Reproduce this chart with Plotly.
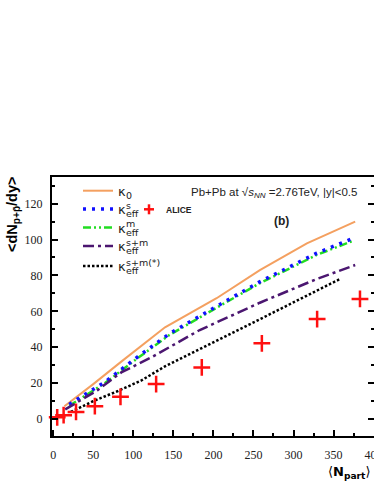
import plotly.graph_objects as go

# curves
k0_x = [14, 50, 85, 139.6, 204, 258, 316.7, 377]
k0_y = [7.2, 19.5, 32, 51.1, 67.3, 83, 97.9, 110]

ks_x = [20, 65, 104.6, 144.6, 200, 256, 329, 375]
ks_y = [8.2, 20.8, 34.4, 47.4, 61.7, 76, 92.4, 100.8]

km_x = [20, 65, 105, 145, 200, 256, 329, 375]
km_y = [7.4, 20.2, 33.8, 46.8, 61.0, 75.2, 91.4, 99.4]

ksm_x = [15, 55, 85, 123, 183, 258, 329, 377]
ksm_y = [5.4, 16, 26, 34.5, 49.6, 64.8, 78, 85.8]

ksm2_x = [22, 50, 80, 110, 140, 200, 258, 358]
ksm2_y = [4, 10, 15.5, 21.5, 29.5, 43, 55.6, 78]

alice_x = [5, 13, 28.5, 52, 84, 128.5, 185.5, 260.5, 329.5, 383]
alice_y = [1.0, 2.2, 4, 7.2, 12.4, 19.5, 28.8, 42.2, 55.7, 66.9]

# plot area in window pixels
L, R, T, B = 52, 374, 177, 436
W, H = 374, 484


def px(x):
    return (x - L) / (R - L)


def py(y):
    return (B - y) / (B - T)


def note(x, y, text, size, family="Liberation Sans", xanchor="left", **kw):
    fig.add_annotation(x=px(x), y=py(y), xref="paper", yref="paper", text=text,
                       showarrow=False, xanchor=xanchor, yanchor="middle",
                       font=dict(family=family, size=size, color=kw.pop("color", "#222")),
                       **kw)


fig = go.Figure()

styles = [
    (k0_x, k0_y, "#f4a060", 2, "solid"),
    (km_x, km_y, "#22dd22", 2.5, "8px,3px,2px,3px,2px,3px"),
    (ks_x, ks_y, "#1010ff", 3.5, "3px,6px"),
    (ksm_x, ksm_y, "#4b1670", 2.5, "11px,4px,3px,4px"),
    (ksm2_x, ksm2_y, "#000000", 2.5, "2.5px,2px"),
]
for xs, ys, c, w, d in styles:
    fig.add_trace(go.Scatter(x=xs, y=ys, mode="lines",
                             line=dict(color=c, width=w, dash=d),
                             showlegend=False))

fig.add_trace(go.Scatter(x=alice_x, y=alice_y, mode="markers",
                         marker=dict(symbol="cross-thin", size=12,
                                     line=dict(color="#ff1010", width=2.5)),
                         showlegend=False, cliponaxis=False))

# legend drawn by hand
rows = [190.7, 209, 227.5, 246, 266]
leg = [
    ("#f4a060", 2, "solid", "0", None),
    ("#1010ff", 3.5, "3px,6px", "eff", "s"),
    ("#22dd22", 2.5, "8px,3px,2px,3px,2px,3px", "eff", "m"),
    ("#4b1670", 2.5, "11px,4px,3px,4px", "eff", "s+m"),
    ("#000000", 2.5, "2.5px,2px", "eff", "s+m(*)"),
]
for yy, (c, w, d, sub, sup) in zip(rows, leg):
    fig.add_shape(type="line", xref="paper", yref="paper",
                  x0=px(83), x1=px(113), y0=py(yy), y1=py(yy),
                  line=dict(color=c, width=w, dash=d))
    note(116, yy + 0.5, "κ", 13, family="DejaVu Sans")
    note(124, yy + 4.5, sub, 9.5, family="DejaVu Sans")
    if sup:
        note(124, yy - 4, sup, 9.5, family="DejaVu Sans")

# ALICE legend entry
fig.add_shape(type="line", xref="paper", yref="paper",
              x0=px(144), x1=px(154), y0=py(209.3), y1=py(209.3),
              line=dict(color="#ff1010", width=2.5))
fig.add_shape(type="line", xref="paper", yref="paper",
              x0=px(149), x1=px(149), y0=py(204.3), y1=py(214.3),
              line=dict(color="#ff1010", width=2.5))
note(164, 210, "<b>ALICE</b>", 8.5)

note(189, 192.5, "Pb+Pb at √<i>s</i><sub><i>NN</i></sub> =2.76TeV, |y|<0.5", 11.5)
note(281, 220.5, "<b>(b)</b>", 12, xanchor="center")

# axis titles
note(13, 214, "<b>&lt;dN<sub>p+p̄</sub>/dy&gt;</b>", 14.5, xanchor="center",
     textangle=-90, color="#000")
note(373, 472, "⟨<b>N</b><sub><b>part</b></sub>⟩", 13, family="DejaVu Sans",
     xanchor="right", color="#000")

fig.update_xaxes(range=[-1.5, 400.5], tickvals=[0, 50, 100, 150, 200, 250, 300, 350, 400],
                 ticks="inside", ticklen=6, tickwidth=1.5, tickcolor="#000",
                 minor=dict(ticks="inside", ticklen=3, dtick=25, tick0=0, tickcolor="#000"),
                 showline=True, linewidth=2, linecolor="#000", mirror=True,
                 showgrid=False, zeroline=False, ticklabeloverflow="allow",
                 tickfont=dict(family="Liberation Serif", size=12, color="#222"),
                 ticklabelstandoff=7)
fig.update_yaxes(range=[-9.4, 134.8], tickvals=[0, 20, 40, 60, 80, 100, 120],
                 ticks="inside", ticklen=6, tickwidth=1.5, tickcolor="#000",
                 minor=dict(ticks="inside", ticklen=3, dtick=10, tick0=0, tickcolor="#000"),
                 showline=True, linewidth=2, linecolor="#000", mirror="ticks",
                 showgrid=False, zeroline=False,
                 tickfont=dict(family="Liberation Serif", size=12, color="#222"),
                 ticklabelstandoff=5)

fig.update_layout(width=W, height=H,
                  margin=dict(l=L, r=W - R, t=T, b=H - B, autoexpand=False),
                  plot_bgcolor="white", paper_bgcolor="white",
                  showlegend=False)

# page body has a default 8px margin; drop it so the figure fills the window
fig.write_html("out.html", config={"displayModeBar": False},
               post_script="document.body.style.margin='0';"
                           "document.documentElement.style.overflow='hidden';")
